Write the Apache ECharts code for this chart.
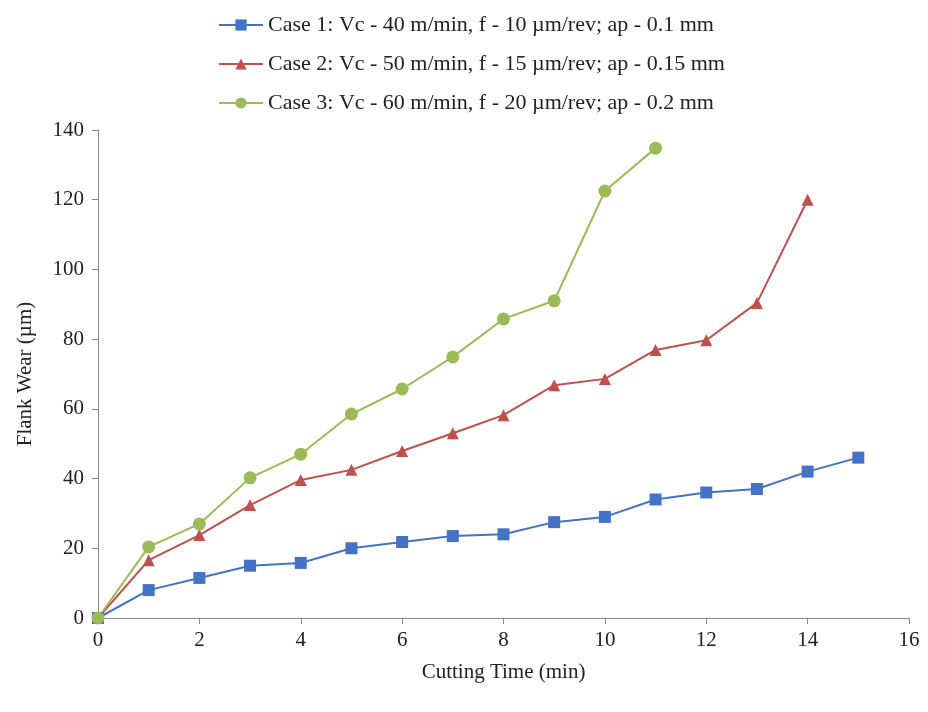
<!DOCTYPE html>
<html><head><meta charset="utf-8">
<script src="https://cdn.jsdelivr.net/npm/echarts@6/dist/echarts.min.js"></script>
<style>html,body{margin:0;padding:0;background:#fff}#c{width:928px;height:712px}</style>
</head><body><div id="c"></div>
<script>
const names = ['Case 1: Vc - 40 m/min, f - 10 µm/rev; ap - 0.1 mm','Case 2: Vc - 50 m/min, f - 15 µm/rev; ap - 0.15 mm','Case 3: Vc - 60 m/min, f - 20 µm/rev; ap - 0.2 mm'];
const case1 = [0,8,11.5,15,15.8,20,21.8,23.5,24,27.5,29,34,36,37,42,46];
const case2 = [0,16.6,23.8,32.4,39.6,42.5,47.9,53,58.2,66.8,68.6,76.9,79.7,90.4,120];
const case3 = [0,20.4,27,40.2,47,58.5,65.7,74.9,85.8,91,122.5,134.8];
const colors = ['#4472C4','#C0504D','#9BBB59'];
const symbols = ['rect','triangle','circle'];
const font = 'Liberation Serif';
const mk = (arr,i)=>({name:names[i],type:'line',data:arr.map((v,x)=>[x,v]),symbol:symbols[i],symbolSize:i===2?13:12,
  lineStyle:{color:colors[i],width:2},itemStyle:{color:colors[i]}});
const chart = echarts.init(document.getElementById('c'));
chart.setOption({
  animation:false,
  textStyle:{fontFamily:font},
  legend:{orient:'vertical',left:213,top:9,itemGap:17,itemWidth:44,itemHeight:14,
    textStyle:{fontFamily:font,fontSize:22,color:'#222'}},
  grid:{left:98,right:19,top:130,bottom:94},
  xAxis:{type:'value',min:0,max:16,interval:2,name:'Cutting Time (min)',nameLocation:'middle',nameGap:44,
    nameTextStyle:{fontFamily:font,fontSize:21,color:'#222'},
    axisLine:{lineStyle:{color:'#888'}},axisTick:{show:true,length:6,lineStyle:{color:'#888'}},
    axisLabel:{fontFamily:font,fontSize:21,color:'#222',margin:12},splitLine:{show:false}},
  yAxis:{type:'value',min:0,max:140,interval:20,name:'Flank Wear (µm)',nameLocation:'middle',nameGap:62,
    nameTextStyle:{fontFamily:font,fontSize:21,color:'#222'},
    axisLine:{show:true,lineStyle:{color:'#888'}},axisTick:{show:true,length:6,lineStyle:{color:'#888'}},
    axisLabel:{fontFamily:font,fontSize:21,color:'#222',margin:14},splitLine:{show:false}},
  series:[mk(case1,0),mk(case2,1),mk(case3,2)]
});
</script></body></html>
